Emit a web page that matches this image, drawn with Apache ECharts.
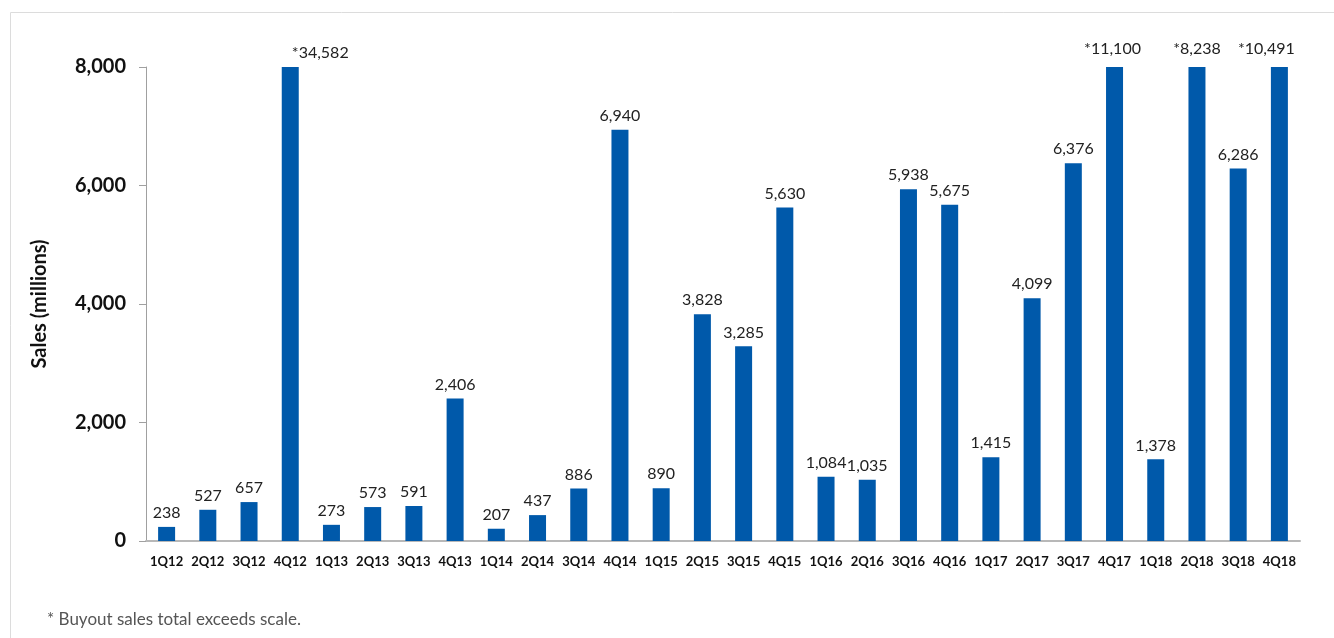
<!DOCTYPE html>
<html><head><meta charset="utf-8">
<script src="https://cdn.jsdelivr.net/npm/echarts@6/dist/echarts.min.js"></script>
<style>html,body{margin:0;padding:0;background:#fff}#c{width:1334px;height:638px}</style>
</head><body><div id="c"></div>
<script>
const categories = ['1Q12','2Q12','3Q12','4Q12','1Q13','2Q13','3Q13','4Q13','1Q14','2Q14','3Q14','4Q14','1Q15','2Q15','3Q15','4Q15','1Q16','2Q16','3Q16','4Q16','1Q17','2Q17','3Q17','4Q17','1Q18','2Q18','3Q18','4Q18'];
const sales = [238,527,657,34582,273,573,591,2406,207,437,886,6940,890,3828,3285,5630,1084,1035,5938,5675,1415,4099,6376,11100,1378,8238,6286,10491];
const scaleMax = 8000;
const yTicks = [0,2000,4000,6000,8000];
const fmt = v => v.toLocaleString('en-US');
const labelOffsets = {3:[30,0],23:[-2,-4],25:[0,-4],27:[-13,-4]};
const data = sales.map((v,i)=>{
  const item = {value: Math.min(v, scaleMax), raw: v};
  if (labelOffsets[i]) item.label = {offset: labelOffsets[i]};
  return item;
});
const chart = echarts.init(document.getElementById('c'));
chart.setOption({
  animation:false,
  textStyle:{fontFamily:'Lato'},
  grid:{left:146,right:34,top:67,bottom:97},
  graphic:[
    {type:'rect',shape:{x:10.5,y:12.5,width:1340,height:640},style:{fill:'none',stroke:'#dcdcdc',lineWidth:1},silent:true},
    {type:'text',left:47,top:611,style:{text:'* Buyout sales total exceeds scale.',font:'17px Lato',fill:'#555'}}
  ],
  xAxis:{type:'category',data:categories,
    axisLine:{lineStyle:{color:'#b8b8b8',width:2}},axisTick:{show:false},
    axisLabel:{color:'#111',fontWeight:'bold',fontSize:13,margin:14,interval:0}},
  yAxis:{type:'value',min:0,max:scaleMax,interval:2000,
    name:'Sales (millions)',nameLocation:'middle',nameGap:96,
    nameTextStyle:{fontSize:20,fontWeight:'bold',color:'#111'},
    axisLine:{show:true,lineStyle:{color:'#a0a0a0'}},
    axisTick:{show:true,inside:false,length:7,lineStyle:{color:'#a0a0a0'}},
    splitLine:{show:false},
    axisLabel:{color:'#111',fontWeight:'bold',fontSize:20,margin:20,
      formatter:v=>yTicks.includes(v)?fmt(v):''}},
  series:[{type:'bar',data:data,barWidth:17,itemStyle:{color:'#0059aa'},
    label:{show:true,position:'top',distance:6,fontSize:16,color:'#222',
      formatter:p=>(p.data.raw>scaleMax?'*':'')+fmt(p.data.raw)}}]
});
</script></body></html>
